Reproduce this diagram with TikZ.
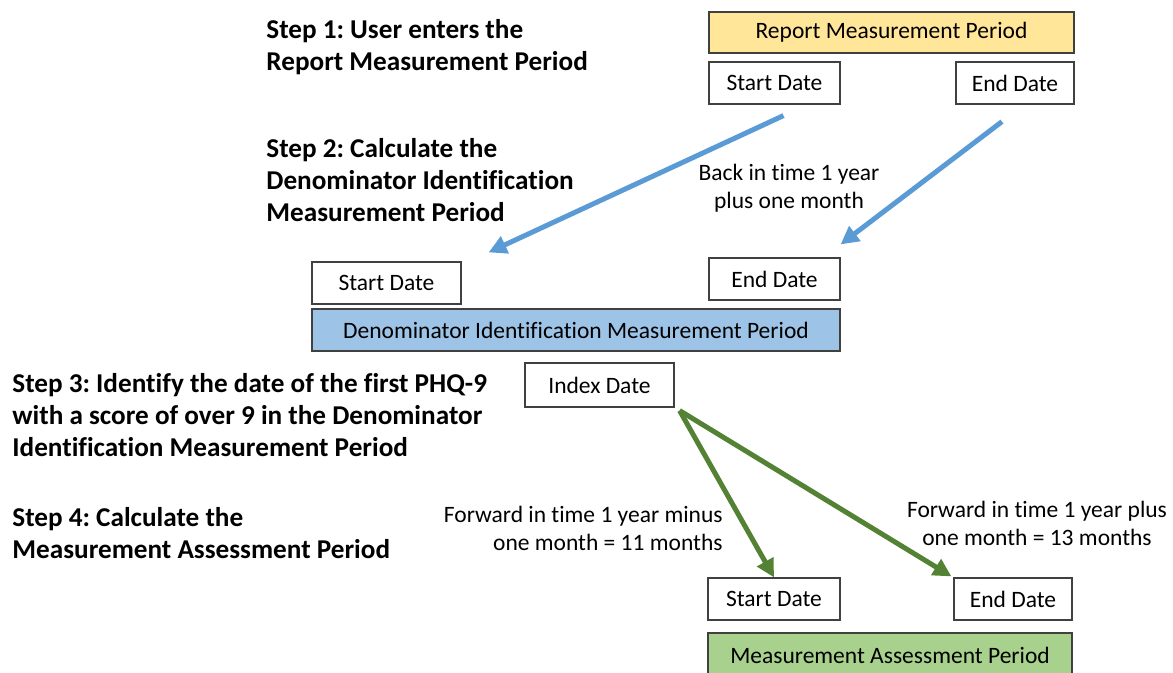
\documentclass[tikz,border=0pt]{standalone}
\usepackage{fontspec}
\setmainfont{Carlito}[Ligatures=NoCommon]
\usetikzlibrary{arrows.meta}
\frenchspacing
\definecolor{rmpyellow}{HTML}{FFE699}
\definecolor{dimpblue}{HTML}{9DC3E6}
\definecolor{mapgreen}{HTML}{A9D18E}
\definecolor{arrblue}{HTML}{5B9BD5}
\definecolor{arrgreen}{HTML}{548235}
\tikzset{
  datebox/.style={draw=black!75, line width=0.6pt, fill=white, inner sep=0pt,
    minimum height=21pt, font=\fontsize{11.75}{14}\selectfont},
  stepnote/.style={inner sep=0pt, align=left, font=\fontsize{13.6}{16}\selectfont\bfseries},
  timenote/.style={inner sep=0pt, font=\fontsize{11.75}{14}\selectfont},
  bluearr/.style={arrblue, line width=2.5pt, -{Triangle[length=9pt,width=9pt]}},
  greenarr/.style={arrgreen, line width=2.5pt, -{Triangle[length=9pt,width=9pt]}}
}
\begin{document}
\begin{tikzpicture}[x=0.5pt, y=-0.5pt]
  \clip (0,0) rectangle (1173,673);
  % step 1
  \node[stepnote, anchor=west] (s1) at (266,47) {Step 1: User enters the\\Report Measurement Period};
  \node[datebox, fill=rmpyellow, minimum width=182.5pt, minimum height=20.5pt] (rmp) at (891.5,32.5) {Report Measurement Period};
  \node[datebox, minimum width=65.5pt] (rstart) at (774.5,83) {Start Date};
  \node[datebox, minimum width=59pt] (rend) at (1015,83) {End Date};
  % step 2
  \node[stepnote, anchor=west] (s2) at (266,180.5) {Step 2: Calculate the\\Denominator Identification\\Measurement Period};
  \node[timenote, align=center] (back) at (789,188) {Back in time 1 year\\plus one month};
  \node[datebox, minimum width=74.5pt] (dstart) at (386.5,283) {Start Date};
  \node[datebox, minimum width=65.5pt] (dend) at (774.5,279) {End Date};
  \node[datebox, fill=dimpblue, minimum width=264pt] (dimp) at (576,330) {Denominator Identification Measurement Period};
  \draw[bluearr] ([shift={(9,11)}]rstart.south) -- ([shift={(27,-9)}]dstart.north east);
  \draw[bluearr] ([shift={(-13,17)}]rend.south) -- ([shift={(0,-13)}]dend.north east);
  % step 3
  \node[stepnote, anchor=west] (s3) at (12,415) {Step 3: Identify the date of the first PHQ-9\\with a score of over 9 in the Denominator\\Identification Measurement Period};
  \node[datebox, minimum width=74.5pt, minimum height=22pt] (index) at (599.5,385) {Index Date};
  % step 4
  \node[stepnote, anchor=west] (s4) at (12,533) {Step 4: Calculate the\\Measurement Assessment Period};
  \node[timenote, align=right, anchor=east] (fwdminus) at (723,528) {Forward in time 1 year minus\\one month = 11 months};
  \node[timenote, align=center] (fwdplus) at (1037,523) {Forward in time 1 year plus\\one month = 13 months};
  \node[datebox, minimum width=66pt] (mstart) at (774,599) {Start Date};
  \node[datebox, minimum width=59pt] (mend) at (1013,599) {End Date};
  \node[datebox, fill=mapgreen, minimum width=182pt, minimum height=22pt] (map) at (890,655) {Measurement Assessment Period};
  \draw[greenarr] ([shift={(5,3)}]index.south east) -- (mstart.north);
  \draw[greenarr] ([shift={(5,3)}]index.south east) -- ([shift={(-2,-1)}]mend.north west);
\end{tikzpicture}
\end{document}
